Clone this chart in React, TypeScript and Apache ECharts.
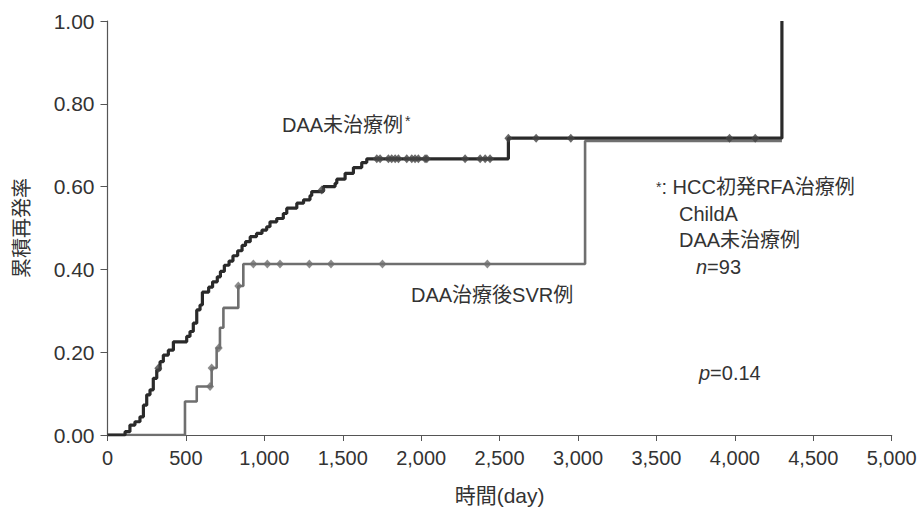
import React, { useEffect, useRef } from "react";
import * as echarts from "echarts";

// DAA未治療例 (black) cumulative recurrence steps
const untreatedDays = [0, 112, 143, 175, 207, 229, 250, 271, 292, 314, 335, 356, 388, 420, 505, 526, 547, 569, 590, 605, 645, 670, 700, 720, 745, 775, 800, 830, 858, 880, 910, 950, 985, 1015, 1036, 1079, 1121, 1143, 1207, 1250, 1291, 1302, 1376, 1451, 1462, 1515, 1568, 1621, 1653, 2556, 4300];
const untreatedRates = [0, 0.008, 0.024, 0.032, 0.044, 0.072, 0.097, 0.109, 0.137, 0.157, 0.177, 0.193, 0.205, 0.225, 0.238, 0.25, 0.27, 0.302, 0.314, 0.345, 0.357, 0.37, 0.382, 0.395, 0.41, 0.42, 0.433, 0.445, 0.458, 0.467, 0.479, 0.487, 0.495, 0.503, 0.515, 0.523, 0.535, 0.548, 0.56, 0.568, 0.578, 0.588, 0.6, 0.608, 0.618, 0.632, 0.646, 0.658, 0.667, 0.717, 1.0];
const untreatedCensorDays = [324, 1366, 1717, 1738, 1791, 1812, 1834, 1855, 1908, 1940, 1961, 1982, 2025, 2036, 2280, 2376, 2408, 2439, 2556, 2733, 2954, 3966, 4130];
const untreatedCensorRates = [0.161, 0.592, 0.667, 0.667, 0.667, 0.667, 0.667, 0.667, 0.667, 0.667, 0.667, 0.667, 0.667, 0.667, 0.667, 0.667, 0.667, 0.667, 0.717, 0.717, 0.717, 0.717, 0.717];

// DAA治療後SVR例 (gray)
const svrDays = [0, 494, 569, 664, 696, 717, 739, 834, 866, 3045, 4300];
const svrRates = [0, 0.081, 0.117, 0.162, 0.21, 0.259, 0.307, 0.36, 0.413, 0.71, 0.71];
const svrCensorDays = [654, 664, 709, 834, 930, 1019, 1100, 1287, 1425, 1753, 2422];
const svrCensorRates = [0.117, 0.162, 0.21, 0.36, 0.413, 0.413, 0.413, 0.413, 0.413, 0.413, 0.413];

const FONT = "'Liberation Sans', Arial, 'Noto Sans CJK JP', sans-serif";
const TEXT = "#333333";
const BLACK = "#2a2a2a";
const GRAY = "#6f6f6f";

const zip = (a: number[], b: number[]) => a.map((v, i) => [v, b[i]]);

export default function App() {
  const ref = useRef<HTMLDivElement>(null);
  useEffect(() => {
    document.body.style.margin = "0";
    const chart = echarts.init(ref.current!, null, { renderer: "svg" });
    chart.setOption({
      animation: false,
      backgroundColor: "#ffffff",
      grid: { left: 107.5, right: 30.3, top: 21, bottom: 74, containLabel: false, outerBoundsMode: "none" },
      xAxis: {
        type: "value",
        min: 0,
        max: 5000,
        interval: 500,
        name: "時間(day)",
        nameLocation: "middle",
        nameGap: 50,
        nameTextStyle: { fontSize: 21, color: TEXT, fontFamily: FONT },
        axisLine: { lineStyle: { color: "#555", width: 1.2 } },
        axisTick: { length: 6, lineStyle: { color: "#555" } },
        axisLabel: {
          fontSize: 20,
          color: TEXT,
          fontFamily: FONT,
          margin: 13,
          formatter: (v: number) => v.toLocaleString("en-US"),
        },
        splitLine: { show: false },
      },
      yAxis: {
        type: "value",
        min: 0,
        max: 1,
        interval: 0.2,
        name: "累積再発率",
        nameLocation: "middle",
        nameGap: 76,
        nameTextStyle: { fontSize: 20, color: TEXT, fontFamily: FONT },
        axisLine: { show: true, lineStyle: { color: "#555", width: 1.2 } },
        axisTick: { show: true, length: 7, lineStyle: { color: "#555" } },
        axisLabel: {
          fontSize: 21,
          color: TEXT,
          fontFamily: FONT,
          margin: 13,
          formatter: (v: number) => v.toFixed(2),
        },
        splitLine: { show: false },
      },
      series: [
        {
          type: "line",
          step: "end",
          data: zip(svrDays, svrRates),
          symbol: "none",
          lineStyle: { color: GRAY, width: 2.6 },
          z: 2,
        },
        {
          type: "scatter",
          data: zip(svrCensorDays, svrCensorRates),
          symbol: "diamond",
          symbolSize: [8, 9],
          itemStyle: { color: GRAY },
          z: 3,
        },
        {
          type: "line",
          step: "end",
          data: zip(untreatedDays, untreatedRates),
          symbol: "none",
          lineStyle: { color: BLACK, width: 3.2 },
          z: 4,
        },
        {
          type: "scatter",
          data: zip(untreatedCensorDays, untreatedCensorRates),
          symbol: "diamond",
          symbolSize: [8, 9],
          itemStyle: { color: "#444" },
          z: 5,
        },
      ],
      graphic: [
        {
          type: "text",
          left: 282,
          top: 114,
          style: {
            text: "DAA未治療例{s|*}",
            font: `20px ${FONT}`,
            fill: TEXT,
            rich: { s: { fontSize: 14, fontFamily: FONT, fill: TEXT, verticalAlign: "top", padding: [0, 0, 8, 2] } },
          },
        },
        {
          type: "text",
          left: 411,
          top: 285,
          style: { text: "DAA治療後SVR例", font: `20px ${FONT}`, fill: TEXT },
        },
        {
          type: "text",
          left: 656,
          top: 177,
          style: {
            text: "{s|*}: HCC初発RFA治療例",
            font: `20px ${FONT}`,
            fill: TEXT,
            rich: { s: { fontSize: 14, fontFamily: FONT, fill: TEXT } },
          },
        },
        {
          type: "text",
          left: 679,
          top: 204,
          style: { text: "ChildA", font: `20px ${FONT}`, fill: TEXT },
        },
        {
          type: "text",
          left: 679,
          top: 230,
          style: { text: "DAA未治療例", font: `20px ${FONT}`, fill: TEXT },
        },
        {
          type: "text",
          left: 696,
          top: 257,
          style: {
            text: "{i|n}=93",
            font: `20px ${FONT}`,
            fill: TEXT,
            rich: { i: { fontStyle: "italic", fontSize: 20, fontFamily: FONT, fill: TEXT } },
          },
        },
        {
          type: "text",
          left: 699,
          top: 363,
          style: {
            text: "{i|p}=0.14",
            font: `20px ${FONT}`,
            fill: TEXT,
            rich: { i: { fontStyle: "italic", fontSize: 20, fontFamily: FONT, fill: TEXT } },
          },
        },
      ],
    });
    return () => chart.dispose();
  }, []);
  return <div ref={ref} style={{ position: "fixed", left: 0, top: 0, width: 922, height: 509 }} />;
}
